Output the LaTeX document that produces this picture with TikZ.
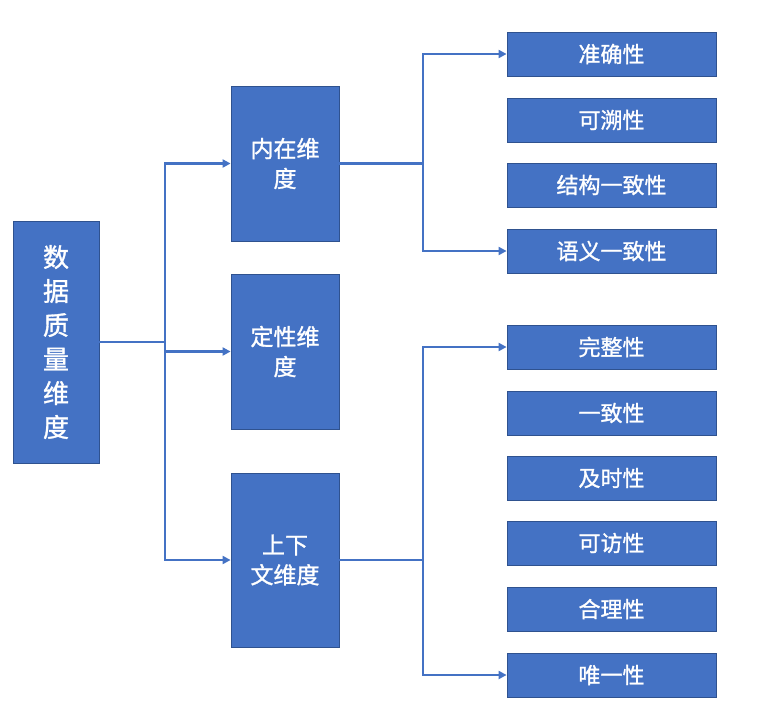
\documentclass[tikz,border=0pt]{standalone}
\usepackage{fontspec}
\setmainfont[FakeBold=1.2]{Noto Sans CJK SC}
\usetikzlibrary{arrows.meta}
\definecolor{boxblue}{HTML}{4472C4}
\definecolor{boxedge}{HTML}{2F528F}
\tikzset{
	box/.style={draw=boxedge, line width=0.8pt, fill=boxblue, text=white, inner sep=0pt, align=center},
	leaf/.style={box, minimum width=209pt, minimum height=44pt, font=\fontsize{22}{26}\selectfont},
	dim/.style={box, minimum width=108pt, minimum height=155pt, font=\fontsize{23}{30}\selectfont},
	link/.style={draw=boxblue, line width=2.3pt},
	arr/.style={link, -{Triangle[length=8pt,width=8pt]}}
}
\begin{document}
\begin{tikzpicture}[x=1pt,y=-1pt]
		%%%%% START %%%%%
		\useasboundingbox (0, 0) rectangle (765, 721);
		
		\node[box, minimum width=86pt, minimum height=242pt, font=\fontsize{26}{34}\selectfont] (root) at (56, 342) {数\\据\\质\\量\\维\\度};
		
		\node[dim] (inner) at (285, 163.5) {内在维\\度};
		\node[dim] (qual) at (285, 351.5) {定性维\\度};
		\node[dim, minimum height=174pt] (ctx) at (285, 560) {上下\\文维度};
		
		\node[leaf] (acc) at (611.5, 54) {准确性};
		\node[leaf] (trace) at (611.5, 120) {可溯性};
		\node[leaf] (struct) at (611.5, 185) {结构一致性};
		\node[leaf] (sem) at (611.5, 251) {语义一致性};
		
		\node[leaf] (compl) at (611.5, 347) {完整性};
		\node[leaf] (cons) at (611.5, 413) {一致性};
		\node[leaf] (time) at (611.5, 478) {及时性};
		\node[leaf] (access) at (611.5, 543) {可访性};
		\node[leaf] (reason) at (611.5, 609) {合理性};
		\node[leaf] (uniq) at (611.5, 675) {唯一性};
		
		\coordinate (jroot) at (165, 342);
		\coordinate (jinner) at (423, 163.5);
		\coordinate (jctx) at (423, 560);
		
		\draw[link] (root.east) -- (jroot);
		\draw[arr] (jroot) |- (inner.west);
		\draw[arr] (jroot) |- (qual.west);
		\draw[arr] (jroot) |- (ctx.west);
		
		\draw[link] (inner.east) -- (jinner);
		\draw[arr] (jinner) |- (acc.west);
		\draw[arr] (jinner) |- (sem.west);
		
		\draw[link] (ctx.east) -- (jctx);
		\draw[arr] (jctx) |- (compl.west);
		\draw[arr] (jctx) |- (uniq.west);
		
		%%%%% END %%%%%
	\end{tikzpicture}
\end{document}
